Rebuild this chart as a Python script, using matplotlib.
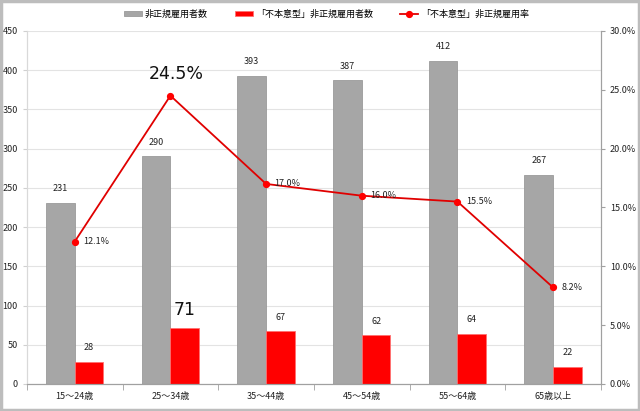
import matplotlib.pyplot as plt
import numpy as np

plt.rcParams['font.family'] = ['Noto Sans CJK JP', 'DejaVu Sans']

# datos
categorias = ['15～24歳', '25～34歳', '35～44歳', '45～54歳', '55～64歳', '65歳以上']
no_regulares = [231, 290, 393, 387, 412, 267]        # 非正規雇用者数
no_deseados = [28, 71, 67, 62, 64, 22]               # 「不本意型」非正規雇用者数
tasa = [12.1, 24.5, 17.0, 16.0, 15.5, 8.2]           # 「不本意型」非正規雇用率 (%)

x = np.arange(len(categorias))
ancho = 0.3

fig = plt.figure(figsize=(6.4, 4.11), dpi=100)
ax = fig.add_axes([0.042, 0.0657, 0.897, 0.859])
ax2 = ax.twinx()

ax.bar(x - ancho/2, no_regulares, width=ancho, color='#a6a6a6', edgecolor='#9a9a9a',
       linewidth=0.6, label='非正規雇用者数', zorder=2)
ax.bar(x + ancho/2, no_deseados, width=ancho, color='#ff0000', edgecolor='#ff7070',
       linewidth=0.6, label='「不本意型」非正規雇用者数', zorder=2)
ax2.plot(x, tasa, color='#e00000', lw=1.3, marker='o', ms=4.2, mec='#ff0000',
         mfc='#ff0000', label='「不本意型」非正規雇用率', zorder=3)

# etiquetas de valores
for i in range(len(x)):
    ax.annotate(str(no_regulares[i]), (x[i] - ancho/2, no_regulares[i]),
                xytext=(0, 7), textcoords='offset points', ha='center', va='bottom',
                fontsize=6.5, color='#222222')
    if i == 1:
        ax.annotate(str(no_deseados[i]), (x[i] + ancho/2, no_deseados[i]),
                    xytext=(0, 7), textcoords='offset points', ha='center', va='bottom',
                    fontsize=12.5, color='#111111', family='DejaVu Sans')
        ax2.annotate('%.1f%%' % tasa[i], (x[i], tasa[i]),
                     xytext=(4, 9), textcoords='offset points', ha='center', va='bottom',
                     fontsize=12.5, color='#111111', family='DejaVu Sans')
    else:
        ax.annotate(str(no_deseados[i]), (x[i] + ancho/2, no_deseados[i]),
                    xytext=(0, 7), textcoords='offset points', ha='center', va='bottom',
                    fontsize=6.5, color='#222222')
        ax2.annotate('%.1f%%' % tasa[i], (x[i], tasa[i]),
                     xytext=(6, 0), textcoords='offset points', ha='left', va='center',
                     fontsize=6.5, color='#222222')

# ejes
ax.set_xlim(-0.5, len(x) - 0.5)
ax.set_ylim(0, 450)
ax.set_yticks(np.arange(0, 451, 50))
ax2.set_ylim(0, 30)
ax2.set_yticks(np.arange(0, 30.1, 5))
ax2.set_yticklabels(['%.1f%%' % v for v in np.arange(0, 30.1, 5)])

ax.set_xticks(x)
ax.set_xticklabels(categorias)
ax.set_xticks(np.arange(-0.5, len(x), 1), minor=True)
ax.tick_params(axis='x', which='major', length=0, labelsize=6.5, pad=6, colors='#222222')
ax.tick_params(axis='x', which='minor', length=4, color='#a0a0a0')
ax.tick_params(axis='y', length=3, color='#d0d0d0', labelsize=6.5, colors='#222222')
ax2.tick_params(axis='y', length=3, color='#a0a0a0', labelsize=6.5, colors='#222222')

ax.grid(axis='y', color='#e3e3e3', lw=0.8, zorder=0)
ax.set_axisbelow(True)
for a in (ax, ax2):
    a.spines['top'].set_visible(False)
    a.spines['left'].set_color('#d9d9d9')
    a.spines['right'].set_color('#a0a0a0')
    a.spines['bottom'].set_color('#a0a0a0')

# leyenda
h1, l1 = ax.get_legend_handles_labels()
h2, l2 = ax2.get_legend_handles_labels()
fig.legend(h1 + h2, l1 + l2, loc='center', bbox_to_anchor=(0.51, 0.966), ncol=3,
           frameon=False, fontsize=6.5, handlelength=2.0, handleheight=0.6,
           columnspacing=3.0, handletextpad=0.3)

# marco gris
fig.patches.append(plt.Rectangle((0.0015, 0.0025), 0.997, 0.995, transform=fig.transFigure,
                                 fill=False, edgecolor='#bdbdbd', lw=2.5))

fig.savefig('out.png', dpi=100)
